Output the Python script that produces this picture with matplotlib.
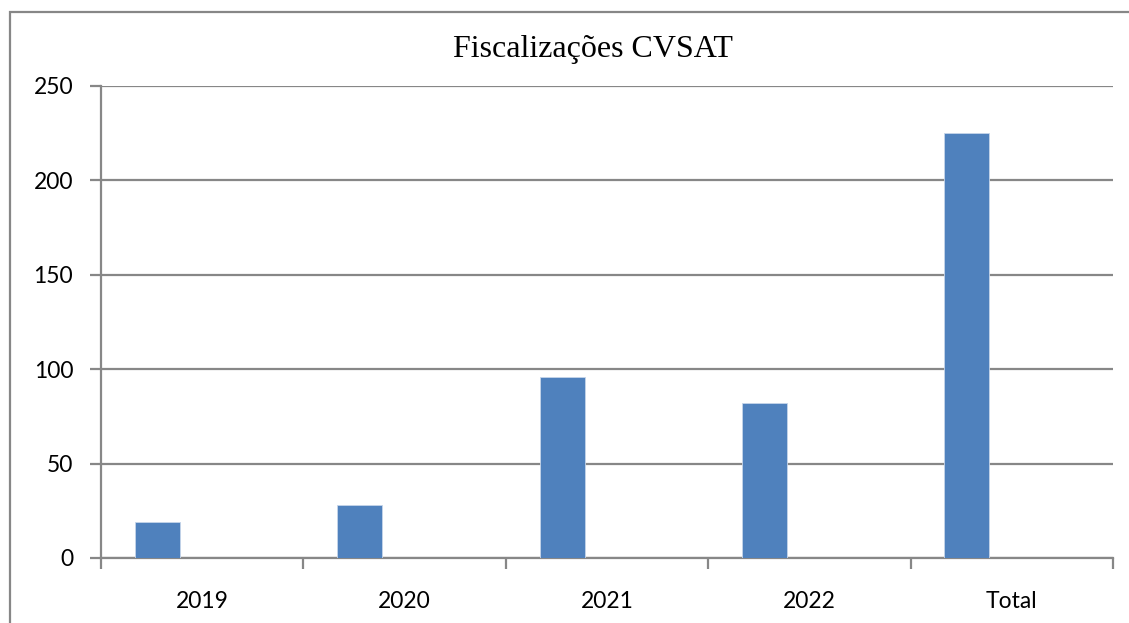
import numpy as np
import matplotlib.pyplot as plt
from matplotlib.patches import Rectangle

categories = ['2019', '2020', '2021', '2022', 'Total']
values = [19, 28, 96, 82, 225]
yticks = [0, 50, 100, 150, 200, 250]

W, H = 1129, 623
fig = plt.figure(figsize=(W/100, H/100), dpi=100)
ax = fig.add_axes([101/W, 1-558/H, (1113-101)/W, (558-86)/H])

grey = '#878787'
# excel style: 3 series slots, gap 150%, only first filled
w = 1/4.5
x = np.arange(len(categories))
ax.bar(x + 0.75*w, values, width=w, align='edge', color='#4f81bd',
       edgecolor='#c6d5ea', linewidth=0.6, zorder=3)

ax.set_xlim(0, len(categories))
ax.set_ylim(0, 250)
ax.set_yticks(yticks)
ax.yaxis.grid(True, color=grey, linewidth=1.6)
ax.set_axisbelow(True)

ax.set_xticks(np.arange(len(categories)+1))
ax.set_xticklabels([])
ax.set_xticks(x + 0.5, minor=True)
ax.set_xticklabels(categories, minor=True)
ax.tick_params(axis='x', which='minor', length=0, pad=24)
ax.tick_params(axis='x', which='major', length=8, color=grey, width=1.6)
ax.tick_params(axis='y', length=8, color=grey, width=1.6, pad=12)
for lab in ax.get_xticklabels(minor=True) + ax.get_yticklabels():
    lab.set_fontfamily('Lato')
    lab.set_fontsize(16.5)

for s in ['top', 'right']:
    ax.spines[s].set_visible(False)
for s in ['left', 'bottom']:
    ax.spines[s].set_color(grey)
    ax.spines[s].set_linewidth(1.6)

fig.text(593/W, 1-50/H, 'Fiscalizações CVSAT', ha='center', va='center',
         fontfamily='Liberation Serif', fontsize=23)

fig.patches.append(Rectangle((10/W, -0.1), 1.2, (1-12/H)+0.1, transform=fig.transFigure,
                             fill=False, edgecolor=grey, linewidth=1.6))

fig.savefig('out.png', dpi=100)
